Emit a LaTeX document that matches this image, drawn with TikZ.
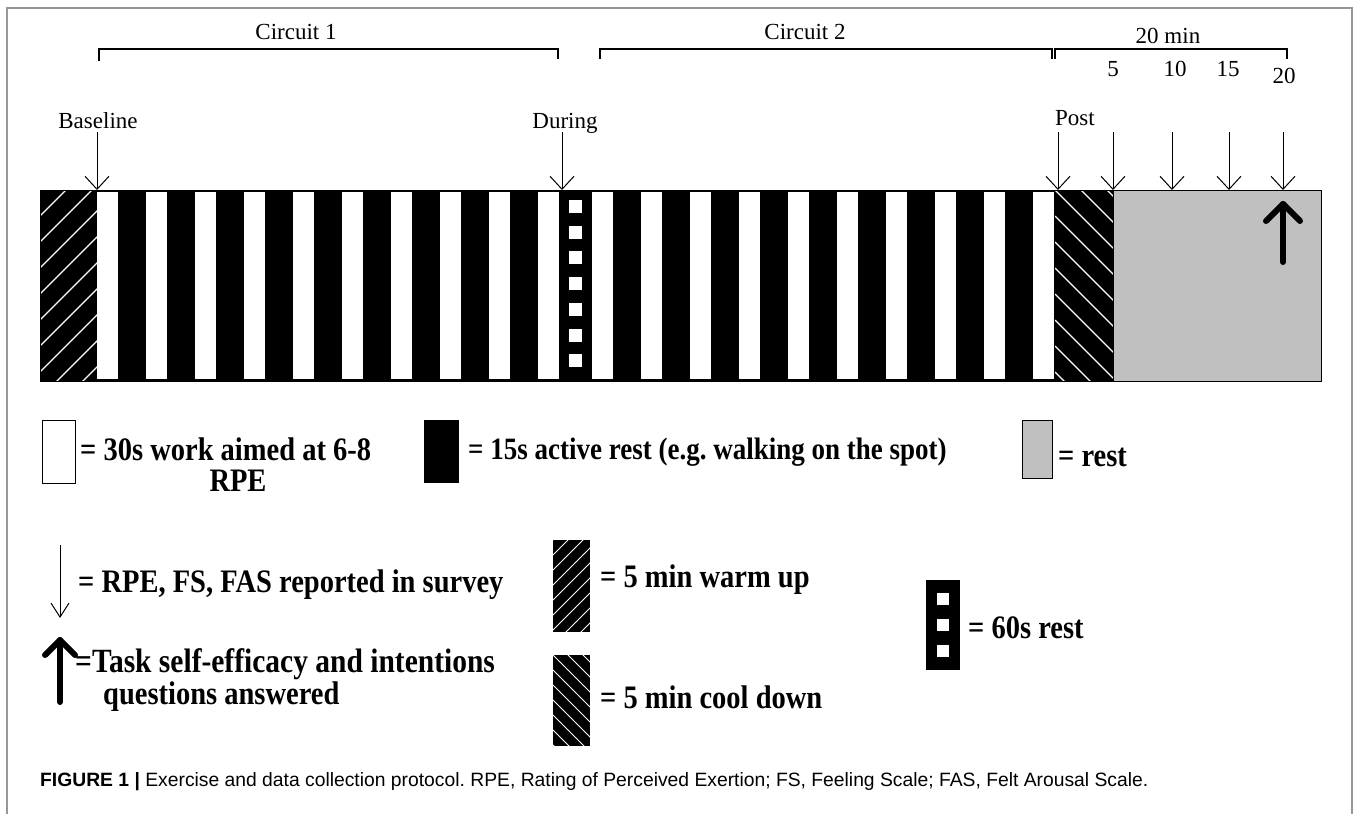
\documentclass[tikz,border=0pt]{standalone}
\usepackage{fontspec}
\setmainfont{Liberation Serif}
\setsansfont{Liberation Sans}
\usetikzlibrary{arrows.meta, positioning, calc}
\definecolor{restgrey}{RGB}{192,192,192}
\definecolor{framegrey}{RGB}{150,150,150}
\newcommand{\tall}[1]{\scalebox{1}[1.15]{#1}}
\frenchspacing

\begin{document}
\begin{tikzpicture}[
  x=1pt, y=-1pt,
  tag/.style     = {font=\fontsize{23}{26}\selectfont, inner sep=0pt},
  key/.style     = {font=\bfseries\fontsize{28.5}{30}\selectfont, inner sep=0pt, anchor=west},
  probe/.style   = {line width=1pt, -{Straight Barb[length=13pt, width=24pt, line width=1pt]}},
  bracket/.style = {line width=1.4pt},
  hatch/.style   = {white, line width=1.3pt},
  bigarrow/.style = {line width=6pt, line cap=round, line join=round}
]
  \useasboundingbox (0,0) rectangle (1358,814);

  % figure frame
  \draw[framegrey, line width=1.5pt] (7,814) -- (7,8) -- (1352,8) -- (1352,814);

  % timeline strip
  \coordinate (top) at (0,190);
  \fill (40,190) rectangle (1113,381);
  \foreach \i in {0,...,9} {
    \fill[white] ({97+49*\i},192) rectangle ++(21,187);
    \fill[white] ({592+49*\i},192) rectangle ++(21,187);
  }
  % 60s rest
  \foreach \j in {0,...,6}
    \fill[white] (569,{200+25.7*\j}) rectangle ++(13,13);
  % warm up
  \begin{scope}
    \clip (40,190) rectangle (97,381);
    \foreach \k in {0,...,10}
      \draw[hatch] (40,{190+26*\k}) -- ++(70,-70);
  \end{scope}
  % cool down
  \begin{scope}
    \clip (1055,190) rectangle (1113,381);
    \foreach \k in {-3,...,8}
      \draw[hatch] (1055,{190+26*\k}) -- ++(70,70);
  \end{scope}
  % rest
  \filldraw[fill=restgrey, draw=black, line width=1pt] (1113,190) rectangle (1321,381);
  \draw[line width=1pt] (40,190) rectangle (1321,381);
  \draw[bigarrow] (1266,221) -- (1283,204) -- (1300,221);
  \draw[bigarrow] (1283,204) -- (1283,262);

  % brackets
  \draw[bracket] (99,61) |- (558,49) -- (558,59);
  \draw[bracket] (600,59) |- (1052,49) -- (1052,59);
  \draw[bracket] (1055,59) |- (1287,49) -- (1287,59);
  \node[tag] (circ1) at (296,32) {Circuit 1};
  \node[tag] (circ2) at (805,32) {Circuit 2};
  \node[tag] (twenty) at (1168,36) {20 min};
  \node[tag] (m5) at (1113,69) {5};
  \node[tag] (m10) at (1175,69) {10};
  \node[tag] (m15) at (1228,69) {15};
  \node[tag] (m20) at (1284,76) {20};

  % measurement points
  \node[tag] (baseline) at (98,121) {Baseline};
  \node[tag] (during) at (565,123) {During};
  \node[tag] (post) at (1075,118) {Post};
  \coordinate (a0) at (97,132);
  \coordinate (a1) at (562,132);
  \coordinate (a2) at (1058,132);
  \coordinate (a3) at (1113,132);
  \coordinate (a4) at (1172,132);
  \coordinate (a5) at (1229,132);
  \coordinate (a6) at (1283,132);
  \foreach \p in {a0,a1,a2,a3,a4,a5,a6}
    \draw[probe] (\p) -- (\p |- top);

  % legend
  \draw[line width=1pt] (42,420) rectangle (75,483);
  \node[key] (kwork) at (80,449) {\tall{= 30s work aimed at 6-8}};
  \node[key, anchor=center] (krpe) at (238,481) {\tall{RPE}};
  \fill (424,420) rectangle (459,483);
  \node[key, font=\bfseries\fontsize{27}{30}\selectfont] (krest) at (468,452) {\tall{= 15s active rest (e.g. walking on the spot)}};
  \filldraw[fill=restgrey, draw=black, line width=1pt] (1022,420) rectangle (1052,478);
  \node[key] (kgrey) at (1058,457) {\tall{= rest}};

  \draw[line width=1pt, -{Straight Barb[length=14pt, width=18pt, line width=1pt]}] (60,545) -- (60,618);
  \node[key] (kprobe) at (78,585) {\tall{= RPE, FS, FAS reported in survey}};
  \fill (553,540) rectangle (590,632);
  \begin{scope}
    \clip (553,540) rectangle (590,632);
    \foreach \k in {0,...,9}
      \draw[white, line width=1pt] (553,{540+15*\k}) -- ++(40,-40);
  \end{scope}
  \node[key] (kwarm) at (600,580) {\tall{= 5 min warm up}};
  \fill (926,580) rectangle (960,670);
  \foreach \j in {0,1,2}
    \fill[white] (937,{593+26*\j}) rectangle ++(12,12);
  \node[key] (ksixty) at (968,628) {\tall{= 60s rest}};

  \draw[bigarrow] (45,655) -- (60,640) -- (75,655);
  \draw[bigarrow] (60,640) -- (60,702);
  \node[key, font=\bfseries\fontsize{29.5}{30}\selectfont] (ktask) at (75,664) {\tall{=Task self-efficacy and intentions}};
  \node[key] (kquest) at (103,697) {\tall{questions answered}};
  \fill (553,655) rectangle (590,746);
  \begin{scope}
    \clip (553,655) rectangle (590,746);
    \foreach \k in {-3,...,6}
      \draw[white, line width=1pt] (553,{655+15*\k}) -- ++(40,40);
  \end{scope}
  \node[key] (kcool) at (600,697) {\tall{= 5 min cool down}};

  % caption
  \node[font=\sffamily\fontsize{19.3}{22}\selectfont, anchor=west, inner sep=0pt] (caption) at (40,782)
    {\textbf{FIGURE 1 |} Exercise and data collection protocol. RPE, Rating of Perceived Exertion; FS, Feeling Scale; FAS, Felt Arousal Scale.};
\end{tikzpicture}
\end{document}
